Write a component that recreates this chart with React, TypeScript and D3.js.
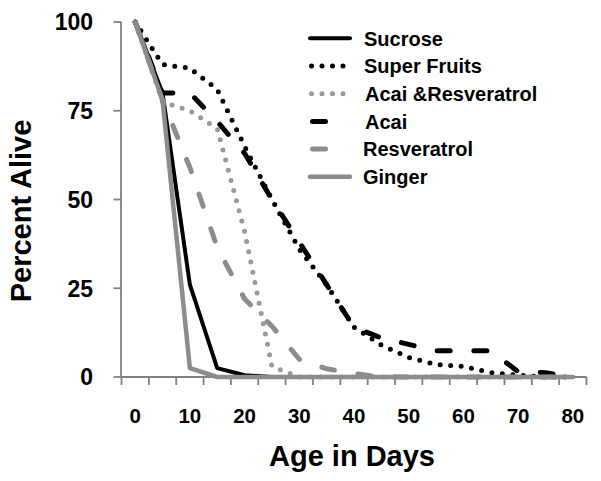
import React from "react";
import * as d3 from "d3";

const days = [0, 5, 10, 15, 20, 25, 30, 35, 40, 45, 50, 55, 60, 65, 70, 75, 80];
const xTickLabels = ["0", "10", "20", "30", "40", "50", "60", "70", "80"];
const yTicks = [0, 25, 50, 75, 100];

const sucrose = [100, 80, 26, 2.5, 0.5, 0, 0, 0, 0, 0, 0, 0, 0, 0, 0, 0, 0];
const superFruits = [100, 88, 87, 81, 65, 50, 36, 26, 14, 9, 5.5, 3.5, 3, 1.2, 0.5, 0, 0];
const acaiResveratrol = [100, 77.5, 75, 70, 41, 3, 0, 0, 0, 0, 0, 0, 0, 0, 0, 0, 0];
const acai = [100, 80, 80, 72, 63, 50, 38, 26, 14, 11, 9.2, 7.4, 7.4, 7.4, 1.5, 1.2, 0];
const resveratrol = [100, 78, 59, 36.5, 22, 14.3, 5, 2.3, 1, 0, 0, 0, 0, 0, 0, 0, 0];
const ginger = [100, 78, 2.5, 0, 0, 0, 0, 0, 0, 0, 0, 0, 0, 0, 0, 0, 0];

const seriesNames = ["Sucrose", "Super Fruits", "Acai &Resveratrol", "Acai", "Resveratrol", "Ginger"];
const seriesValues = [sucrose, superFruits, acaiResveratrol, acai, resveratrol, ginger];

const GRAY = "#8c8c8c";
const styles = [
  { color: "#000", width: 4, dash: "", cap: "round", legendType: "solid" },
  { color: "#000", width: 5, dash: "0 10.5", cap: "round", legendType: "dot" },
  { color: "#999", width: 5, dash: "0 10.5", cap: "round", legendType: "dot" },
  { color: "#000", width: 5, dash: "13 23.7", cap: "round", legendType: "dash" },
  { color: GRAY, width: 5, dash: "13 23.7", cap: "round", legendType: "dash" },
  { color: GRAY, width: 4.5, dash: "", cap: "round", legendType: "solid" },
];

const FONT = "'Liberation Sans', Arial, Helvetica, sans-serif";

export default function App() {
  const W = 601;
  const H = 481;
  const left = 121.5;
  const right = 586.5;
  const top = 22;
  const bottom = 377;

  const x = d3
    .scaleBand<string>()
    .domain(days.map(String))
    .range([left, right])
    .paddingInner(0)
    .paddingOuter(0);
  const bw = x.bandwidth();
  const cx = (d: number) => (x(String(d)) as number) + bw / 2;
  const y = d3.scaleLinear().domain([0, 100]).range([bottom, top]);

  const line = d3
    .line<number>()
    .x((_, i) => cx(days[i]))
    .y((v) => y(v));

  const tickXs = days.map((d) => x(String(d)) as number).concat([right]);

  const legendTop = 38.3;
  const legendStep = 27.7;

  return (
    <svg
      width={W}
      height={H}
      style={{ position: "absolute", left: 0, top: 0, background: "#fff" }}
      fontFamily={FONT}
    >
      <rect x={0} y={0} width={W} height={H} fill="#fff" />
      {/* axes */}
      <g stroke="#808080" strokeWidth={1.8} fill="none">
        <line x1={left - 0.5} y1={top} x2={left - 0.5} y2={bottom} />
        <line x1={left - 0.5} y1={bottom} x2={right} y2={bottom} />
        {yTicks.map((t) => (
          <line key={"yt" + t} x1={left - 8} x2={left - 0.5} y1={y(t)} y2={y(t)} />
        ))}
        {tickXs.map((tx, i) => (
          <line key={"xt" + i} x1={tx} x2={tx} y1={bottom} y2={bottom + 8} />
        ))}
      </g>
      {/* y tick labels */}
      {yTicks.map((t) => (
        <text
          key={"yl" + t}
          x={93}
          y={y(t)}
          dy="0.36em"
          textAnchor="end"
          fontSize={23}
          fontWeight="bold"
          fill="#000"
        >
          {t}
        </text>
      ))}
      {/* x tick labels */}
      {xTickLabels.map((lab) => (
        <text
          key={"xl" + lab}
          x={cx(+lab)}
          y={423}
          textAnchor="middle"
          fontSize={20.5}
          fontWeight="bold"
          fill="#000"
        >
          {lab}
        </text>
      ))}
      {/* axis titles */}
      <text x={352} y={466} textAnchor="middle" fontSize={29} fontWeight="bold" fill="#000">
        Age in Days
      </text>
      <text
        transform="translate(31,211) rotate(-90)"
        textAnchor="middle"
        fontSize={29}
        fontWeight="bold"
        fill="#000"
      >
        Percent Alive
      </text>
      {/* series */}
      {seriesValues.map((vals, i) => (
        <path
          key={"s" + i}
          d={line(vals) as string}
          fill="none"
          stroke={styles[i].color}
          strokeWidth={styles[i].width}
          strokeDasharray={styles[i].dash || undefined}
          strokeLinecap={styles[i].cap as any}
          strokeLinejoin="round"
        />
      ))}
      {/* legend */}
      {seriesNames.map((name, i) => {
        const ly = legendTop + i * legendStep;
        const s = styles[i];
        let x1 = 310;
        let x2 = 350;
        if (s.legendType === "dot") {
          x1 = 311.5;
          x2 = 345;
        } else if (s.legendType === "dash") {
          x1 = 312.5;
          x2 = 330;
        }
        const tx = i === 4 || i === 5 ? 363 : i >= 2 ? 365 : 364;
        return (
          <g key={"lg" + i}>
            <line
              x1={x1}
              x2={x2}
              y1={ly}
              y2={ly}
              stroke={s.color}
              strokeWidth={s.width}
              strokeDasharray={s.dash || undefined}
              strokeLinecap={s.cap as any}
            />
            <text x={tx} y={ly} dy="0.36em" fontSize={20} fontWeight="bold" fill="#000">
              {name}
            </text>
          </g>
        );
      })}
    </svg>
  );
}
